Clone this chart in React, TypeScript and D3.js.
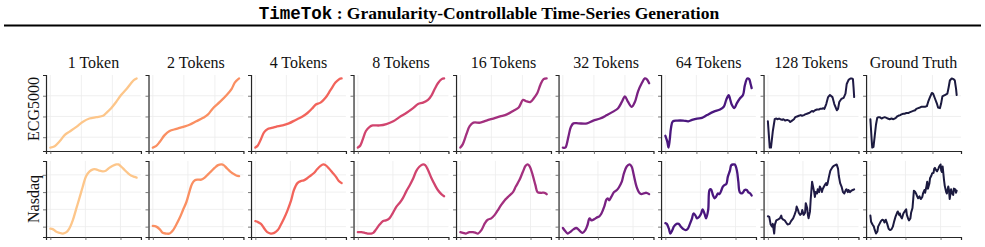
import { useEffect, useRef } from 'react';
import * as d3 from 'd3';

type Pt = [number, number];

const tokenLabels = ['1 Token', '2 Tokens', '4 Tokens', '8 Tokens', '16 Tokens', '32 Tokens', '64 Tokens', '128 Tokens', 'Ground Truth'];
const datasetNames = ['ECG5000', 'Nasdaq'];
const lineColors = ['#fdc68a', '#fa8f62', '#f2645b', '#d1446e', '#a3307e', '#782182', '#4a177e', '#1f1a45', '#1b1a3f'];
const seriesLength = [140, 124];
const xTickValues = [0, 50, 100];
const yTickValues = [[15, 45, 75], [10, 35, 60, 85]];

// ECG5000 reconstructions, [time step, value as % of range]
const ecg1: Pt[] = [[0, 0], [7, 2], [15, 9], [23, 18], [31, 23], [42, 30], [52, 37], [63, 42], [74, 44], [85, 46], [90, 50], [98, 57], [106, 66], [114, 76], [122, 84], [130, 93], [135, 98], [139, 100]];
const ecg2: Pt[] = [[0, 0], [5, 2], [11, 8], [19, 18], [27, 24], [38, 27], [49, 30], [59, 33], [70, 38], [81, 43], [89, 48], [97, 57], [108, 66], [119, 76], [127, 85], [132, 94], [139, 100]];
const ecg4: Pt[] = [[0, 0], [4, 3], [9, 12], [14, 22], [20, 27], [25, 28], [33, 30], [44, 32], [54, 35], [65, 40], [76, 45], [84, 50], [92, 57], [97, 62], [105, 65], [113, 72], [121, 83], [129, 94], [135, 99], [139, 100]];
const ecg8: Pt[] = [[0, 0], [4, 3], [8, 12], [13, 24], [19, 30], [24, 32], [35, 32], [46, 34], [57, 38], [67, 44], [78, 50], [89, 57], [97, 63], [105, 65], [113, 69], [119, 76], [124, 85], [129, 93], [135, 99], [139, 100]];
const ecg16: Pt[] = [[0, 0], [4, 5], [10, 20], [15, 31], [21, 36], [32, 36], [42, 39], [53, 42], [64, 45], [75, 48], [85, 53], [94, 58], [101, 69], [106, 67], [113, 66], [118, 71], [124, 79], [129, 91], [134, 99], [139, 100]];
const ecg32: Pt[] = [[0, 0], [4, 0], [6, 4], [9, 16], [13, 30], [17, 35], [25, 35], [39, 35], [49, 39], [60, 42], [71, 47], [81, 52], [89, 57], [95, 66], [100, 74], [105, 66], [111, 59], [116, 66], [121, 81], [127, 93], [132, 100], [135, 99], [139, 93]];
const ecg64: Pt[] = [[0, 17], [3, 9], [5, 0], [7, 11], [9, 28], [12, 38], [19, 39], [29, 39], [37, 38], [43, 40], [51, 42], [59, 43], [67, 47], [78, 52], [88, 55], [94, 59], [98, 69], [102, 76], [104, 71], [107, 62], [111, 57], [115, 64], [120, 71], [125, 76], [128, 90], [132, 100], [135, 99], [137, 93], [139, 86]];
const ecg128: Pt[] = [[0, 38], [3, 0], [5, 0], [8, 24], [11, 41], [13, 42], [16, 41], [18, 42], [20, 41], [23, 40], [25, 41], [28, 39], [31, 40], [34, 39], [36, 37], [39, 39], [42, 41], [44, 44], [47, 45], [50, 46], [53, 47], [55, 46], [58, 47], [60, 48], [63, 49], [66, 50], [68, 51], [71, 53], [73, 52], [76, 54], [79, 55], [82, 55], [84, 56], [87, 56], [89, 57], [91, 56], [94, 63], [97, 73], [100, 76], [104, 73], [107, 63], [111, 54], [113, 56], [115, 66], [118, 70], [120, 71], [122, 72], [125, 78], [127, 92], [130, 98], [133, 100], [135, 100], [137, 99], [138, 87], [139, 73]];
const ecgTruth: Pt[] = [[0, 41], [2, 12], [3, 0], [5, 1], [7, 17], [9, 33], [11, 43], [13, 44], [15, 44], [18, 42], [20, 43], [23, 44], [26, 43], [28, 42], [31, 41], [34, 42], [37, 41], [39, 42], [41, 43], [43, 45], [45, 46], [48, 47], [50, 48], [53, 49], [55, 49], [58, 50], [61, 50], [63, 51], [66, 52], [69, 53], [72, 54], [74, 56], [77, 57], [80, 58], [82, 59], [85, 59], [88, 59], [91, 60], [93, 66], [96, 73], [99, 79], [101, 78], [104, 71], [107, 64], [109, 58], [112, 57], [114, 64], [116, 74], [118, 75], [120, 76], [122, 77], [124, 78], [126, 87], [128, 97], [131, 100], [134, 99], [136, 97], [138, 85], [139, 76]];

// Nasdaq reconstructions, [time step, value as % of range]
const nas1: Pt[] = [[0, 7], [4, 6], [8, 3], [13, 1], [18, 0], [23, 2], [27, 7], [32, 19], [37, 36], [42, 53], [46, 67], [51, 83], [56, 90], [61, 93], [65, 93], [70, 91], [75, 90], [79, 91], [84, 95], [89, 98], [94, 100], [97, 100], [101, 97], [106, 92], [110, 88], [115, 84], [120, 82], [123, 81]];
const nas2: Pt[] = [[0, 11], [5, 10], [10, 6], [14, 1], [19, 0], [24, 0], [29, 5], [33, 12], [38, 22], [43, 34], [48, 46], [52, 60], [56, 72], [60, 77], [64, 78], [69, 78], [74, 81], [79, 86], [83, 90], [88, 95], [93, 99], [98, 100], [101, 99], [105, 95], [110, 90], [114, 87], [119, 84], [123, 83]];
const nas4: Pt[] = [[0, 18], [3, 17], [8, 14], [13, 7], [17, 2], [22, 0], [27, 1], [32, 5], [36, 12], [41, 22], [46, 34], [51, 48], [55, 63], [60, 73], [65, 76], [69, 77], [74, 80], [79, 84], [84, 88], [88, 93], [93, 98], [97, 100], [100, 99], [105, 94], [110, 88], [115, 82], [119, 76], [123, 73]];
const nas8: Pt[] = [[0, 2], [5, 2], [10, 1], [14, 0], [19, 0], [22, 1], [26, 6], [31, 13], [36, 18], [40, 19], [45, 22], [50, 30], [55, 39], [60, 45], [64, 51], [69, 61], [74, 70], [79, 80], [83, 90], [88, 97], [93, 100], [96, 99], [100, 92], [105, 80], [110, 70], [114, 63], [119, 57], [123, 54]];
const nas16: Pt[] = [[0, 2], [4, 1], [8, 0], [13, 2], [18, 2], [22, 1], [25, 0], [30, 5], [35, 15], [39, 20], [44, 22], [49, 27], [53, 33], [58, 41], [63, 48], [68, 53], [75, 60], [79, 68], [84, 77], [89, 89], [93, 98], [96, 100], [99, 97], [103, 85], [107, 70], [110, 60], [115, 59], [120, 59], [123, 57]];
const nas32: Pt[] = [[0, 8], [3, 4], [7, 0], [10, 2], [15, 6], [19, 8], [22, 6], [26, 2], [28, 1], [32, 5], [35, 12], [38, 22], [41, 19], [45, 21], [48, 23], [52, 25], [55, 29], [59, 39], [62, 49], [64, 51], [66, 48], [69, 53], [73, 60], [77, 63], [80, 67], [84, 75], [87, 87], [91, 97], [95, 100], [98, 97], [101, 85], [105, 68], [109, 59], [112, 57], [115, 58], [119, 59], [123, 57]];
const nas64: Pt[] = [[0, 15], [2, 14], [5, 7], [7, 0], [10, 5], [12, 10], [16, 14], [19, 14], [22, 10], [25, 7], [29, 5], [32, 7], [35, 14], [38, 22], [40, 29], [43, 26], [45, 22], [48, 24], [51, 29], [53, 35], [56, 28], [58, 22], [61, 34], [63, 63], [65, 64], [68, 55], [70, 51], [72, 53], [75, 58], [77, 57], [80, 63], [82, 68], [84, 70], [87, 72], [89, 82], [92, 91], [94, 99], [97, 100], [99, 100], [102, 91], [104, 75], [106, 60], [109, 58], [111, 60], [113, 63], [116, 63], [118, 60], [121, 58], [123, 55]];
const nas128: Pt[] = [[0, 25], [2, 24], [4, 13], [6, 10], [7, 14], [9, 0], [10, 13], [12, 19], [14, 20], [17, 22], [19, 26], [20, 22], [22, 20], [24, 19], [26, 16], [28, 13], [31, 14], [33, 18], [36, 22], [38, 27], [40, 33], [41, 39], [43, 34], [44, 30], [46, 27], [48, 29], [49, 34], [51, 27], [53, 30], [54, 44], [56, 37], [57, 27], [58, 22], [60, 32], [61, 49], [63, 75], [64, 70], [66, 60], [67, 53], [68, 60], [70, 58], [71, 64], [73, 60], [74, 68], [76, 64], [77, 60], [78, 64], [80, 68], [81, 70], [83, 73], [84, 70], [85, 72], [87, 82], [89, 91], [92, 96], [94, 98], [96, 99], [98, 100], [100, 94], [101, 84], [103, 73], [105, 68], [107, 60], [109, 58], [111, 63], [112, 64], [114, 60], [115, 63], [117, 60], [119, 62], [121, 63], [123, 64]];
const nasTruth: Pt[] = [[0, 26], [1, 17], [3, 13], [5, 10], [6, 6], [8, 0], [10, 3], [11, 10], [13, 14], [15, 18], [17, 20], [19, 19], [20, 16], [22, 20], [24, 14], [26, 7], [28, 5], [30, 6], [32, 10], [34, 18], [36, 25], [38, 30], [39, 32], [41, 27], [42, 29], [43, 25], [45, 22], [47, 29], [49, 32], [51, 35], [52, 27], [54, 21], [55, 19], [57, 22], [58, 30], [60, 37], [61, 49], [62, 62], [64, 60], [65, 58], [67, 53], [68, 51], [70, 54], [71, 51], [72, 50], [74, 53], [75, 58], [77, 63], [78, 59], [80, 69], [81, 75], [82, 65], [84, 72], [85, 80], [87, 84], [88, 87], [90, 88], [91, 94], [92, 95], [94, 91], [95, 90], [97, 94], [98, 97], [100, 100], [101, 91], [102, 89], [103, 97], [105, 77], [106, 69], [108, 60], [109, 58], [111, 68], [112, 63], [113, 50], [115, 64], [116, 59], [118, 56], [119, 65], [121, 64], [122, 59], [123, 62]];

const seriesByRow: Pt[][][] = [
  [ecg1, ecg2, ecg4, ecg8, ecg16, ecg32, ecg64, ecg128, ecgTruth],
  [nas1, nas2, nas4, nas8, nas16, nas32, nas64, nas128, nasTruth],
];

const W = 985;
const H = 247;

export default function App() {
  const ref = useRef<SVGSVGElement>(null);

  useEffect(() => {
    if (!ref.current) return;
    const svg = d3.select(ref.current);
    svg.selectAll('*').remove();

    const serif = '"Liberation Serif", "Times New Roman", serif';

    // title with rule underneath
    const title = svg.append('text')
      .attr('x', 489)
      .attr('y', 18.5)
      .attr('text-anchor', 'middle')
      .attr('font-size', 17.5)
      .attr('font-weight', 'bold')
      .attr('fill', '#000');
    title.append('tspan').attr('font-family', '"Liberation Mono", "DejaVu Sans Mono", monospace').text('TimeTok');
    title.append('tspan').attr('font-family', serif).text(' : Granularity-Controllable Time-Series Generation');

    svg.append('line')
      .attr('x1', 4).attr('x2', 981)
      .attr('y1', 25.5).attr('y2', 25.5)
      .attr('stroke', '#000').attr('stroke-width', 2);

    const col = d3.scaleBand<string>().domain(tokenLabels).range([46, 961]).paddingInner(0.074);
    const row = d3.scaleBand<string>().domain(datasetNames).range([75, 237]).paddingInner(0.116);

    // column headings
    svg.append('g').selectAll('text')
      .data(tokenLabels)
      .enter().append('text')
      .attr('x', d => (col(d) || 0) + col.bandwidth() / 2)
      .attr('y', 68)
      .attr('text-anchor', 'middle')
      .attr('font-family', serif)
      .attr('font-size', 16)
      .attr('fill', '#111')
      .text(d => d);

    // row headings
    svg.append('g').selectAll('text')
      .data(datasetNames)
      .enter().append('text')
      .attr('transform', (d, i) => `translate(39,${(row(d) || 0) + row.bandwidth() / 2 - (i === 0 ? 4 : 0)}) rotate(-90)`)
      .attr('text-anchor', 'middle')
      .attr('font-family', serif)
      .attr('font-size', 16)
      .attr('fill', '#111')
      .text(d => d);

    datasetNames.forEach((name, ri) => {
      const top = row(name) || 0;
      const bottom = top + row.bandwidth();
      const n = seriesLength[ri] - 1;

      tokenLabels.forEach((label, ci) => {
        const left = col(label) || 0;
        const right = left + col.bandwidth();
        const data = seriesByRow[ri][ci];

        const x = d3.scaleLinear().domain([-0.05 * n, 1.05 * n]).range([left, right]);
        const y = d3.scaleLinear().domain([-5, 105]).range([bottom, top]);

        const g = svg.append('g');

        // light grid
        g.selectAll('line.gx')
          .data(xTickValues)
          .enter().append('line')
          .attr('class', 'gx')
          .attr('x1', d => x(d)).attr('x2', d => x(d))
          .attr('y1', top).attr('y2', bottom)
          .attr('stroke', '#ececec').attr('stroke-width', 0.8);
        g.selectAll('line.gy')
          .data(yTickValues[ri])
          .enter().append('line')
          .attr('class', 'gy')
          .attr('x1', left).attr('x2', right)
          .attr('y1', d => y(d)).attr('y2', d => y(d))
          .attr('stroke', '#ececec').attr('stroke-width', 0.8);

        const curve = ci >= 7 ? d3.curveLinear : d3.curveCatmullRom.alpha(0.5);
        const line = d3.line<Pt>()
          .x(d => x(d[0]))
          .y(d => y(d[1]))
          .curve(curve);

        g.append('path')
          .datum(data)
          .attr('d', line)
          .attr('fill', 'none')
          .attr('stroke', lineColors[ci])
          .attr('stroke-width', ci >= 7 ? 2 : 2.3)
          .attr('stroke-linejoin', 'round')
          .attr('stroke-linecap', 'round');

        // axes: left and bottom spines with outward ticks, no labels
        const xAxis = g.append('g')
          .attr('transform', `translate(0,${bottom})`)
          .call(d3.axisBottom(x).tickValues(xTickValues).tickSize(3).tickFormat(() => ''));
        const yAxis = g.append('g')
          .attr('transform', `translate(${left},0)`)
          .call(d3.axisLeft(y).tickValues(yTickValues[ri]).tickSize(3).tickFormat(() => ''));
        [xAxis, yAxis].forEach(a => {
          a.select('.domain').attr('stroke', '#262626').attr('stroke-width', 1.2);
          a.selectAll('.tick line').attr('stroke', '#555').attr('stroke-width', 0.8);
        });
      });
    });
  }, []);

  return (
    <svg
      ref={ref}
      width={W}
      height={H}
      style={{ position: 'absolute', left: 0, top: 0, background: '#fff' }}
    />
  );
}
